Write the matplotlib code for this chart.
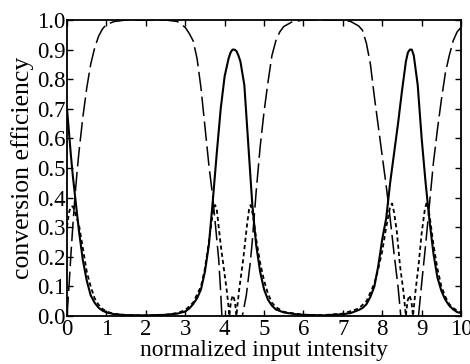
import matplotlib
matplotlib.use("Agg")
import matplotlib.pyplot as plt

plt.rcParams['font.family'] = ['Liberation Serif', 'DejaVu Serif']
plt.rcParams['lines.scale_dashes'] = False

# ---- solid curve ----
x_solid = [0, 0.05, 0.1, 0.15, 0.2, 0.25, 0.3, 0.35, 0.4, 0.5, 0.6, 0.7, 0.8, 0.9, 1.0, 1.2, 1.5, 2.0,
           2.5, 2.8, 3.0, 3.1, 3.2, 3.3, 3.4, 3.5, 3.6, 3.7, 3.8, 3.9, 4.0, 4.1, 4.15, 4.2, 4.25, 4.3,
           4.35, 4.4, 4.5, 4.6, 4.7, 4.8, 4.9, 5.0, 5.1, 5.2, 5.3, 5.5, 5.8, 6.0, 6.5, 7.0, 7.2, 7.4,
           7.5, 7.6, 7.7, 7.8, 7.9, 8.0, 8.1, 8.2, 8.3, 8.4, 8.5, 8.6, 8.65, 8.7, 8.75, 8.8, 8.9, 9.0,
           9.1, 9.2, 9.3, 9.4, 9.5, 9.6, 9.7, 9.8, 9.9, 10.0]
y_solid = [0.70, 0.62, 0.54, 0.47, 0.41, 0.35, 0.29, 0.24, 0.19, 0.12, 0.07, 0.045, 0.028, 0.018, 0.012,
           0.006, 0.003, 0.002, 0.004, 0.008, 0.015, 0.025, 0.04, 0.06, 0.09, 0.15, 0.24, 0.39, 0.55,
           0.70, 0.81, 0.87, 0.89, 0.90, 0.90, 0.895, 0.88, 0.86, 0.78, 0.58, 0.38, 0.24, 0.15, 0.09,
           0.055, 0.035, 0.022, 0.012, 0.006, 0.004, 0.002, 0.006, 0.01, 0.02, 0.027, 0.04, 0.065, 0.10,
           0.17, 0.26, 0.33, 0.45, 0.55, 0.65, 0.76, 0.86, 0.89, 0.90, 0.90, 0.88, 0.78, 0.60, 0.45,
           0.32, 0.21, 0.13, 0.085, 0.055, 0.035, 0.022, 0.013, 0.01]

# ---- long-dashed curve ----
x_long = [0, 0.05, 0.1, 0.15, 0.2, 0.25, 0.3, 0.4, 0.5, 0.6, 0.7, 0.8, 0.9, 1.0, 1.2, 1.5, 2.0, 2.5,
          2.8, 3.0, 3.1, 3.2, 3.3, 3.4, 3.5, 3.6, 3.7, 3.8, 3.85, 3.9, 3.93, 4.2, 4.45, 4.55, 4.65,
          4.7, 4.8, 4.9, 5.0, 5.1, 5.2, 5.3, 5.4, 5.5, 5.7, 6.0, 7.0, 7.2, 7.4, 7.5, 7.6, 7.7, 7.8,
          7.9, 8.0, 8.1, 8.2, 8.3, 8.4, 8.47, 8.7, 8.92, 9.0, 9.1, 9.2, 9.3, 9.4, 9.5, 9.6, 9.7,
          9.8, 9.9, 10.0]
y_long = [0.0, 0.10, 0.21, 0.31, 0.40, 0.48, 0.55, 0.67, 0.77, 0.85, 0.905, 0.945, 0.97, 0.985, 0.995,
          1.0, 1.0, 1.0, 0.995, 0.975, 0.955, 0.93, 0.87, 0.77, 0.64, 0.51, 0.40, 0.26, 0.19, 0.08,
          0.0, 0.0, 0.0, 0.07, 0.18, 0.25, 0.42, 0.57, 0.69, 0.79, 0.88, 0.93, 0.96, 0.978, 0.993,
          1.0, 1.0, 0.995, 0.98, 0.965, 0.92, 0.85, 0.74, 0.64, 0.54, 0.44, 0.33, 0.21, 0.10, 0.0,
          0.0, 0.0, 0.11, 0.24, 0.38, 0.52, 0.63, 0.73, 0.82, 0.88, 0.93, 0.96, 0.975]

# ---- short-dashed curve ----
x_short = [0, 0.05, 0.1, 0.15, 0.2, 0.3, 0.4, 0.5, 0.6, 0.7, 0.8, 0.9, 1.0, 1.2, 1.5, 2.0, 2.5, 2.8,
           3.0, 3.2, 3.4, 3.5, 3.6, 3.7, 3.76, 3.8, 3.85, 3.9, 3.95, 4.0, 4.05, 4.1, 4.12, 4.16, 4.21,
           4.26, 4.3, 4.32, 4.37, 4.42, 4.47, 4.52, 4.57, 4.62, 4.66, 4.72, 4.8, 4.9, 5.0, 5.1, 5.2,
           5.3, 5.5, 6.0, 6.5, 7.0, 7.4, 7.6, 7.8, 7.9, 8.0, 8.1, 8.2, 8.25, 8.3, 8.37, 8.45, 8.54,
           8.6, 8.64, 8.69, 8.74, 8.78, 8.84, 8.92, 9.0, 9.08, 9.13, 9.2, 9.3, 9.4, 9.5, 9.6, 9.7,
           9.8, 9.9, 10.0]
y_short = [0.30, 0.35, 0.37, 0.37, 0.35, 0.31, 0.23, 0.15, 0.10, 0.06, 0.038, 0.024, 0.015, 0.007,
           0.003, 0.002, 0.004, 0.01, 0.02, 0.045, 0.10, 0.16, 0.25, 0.35, 0.375, 0.36, 0.30, 0.24,
           0.19, 0.14, 0.09, 0.03, 0.0, 0.05, 0.07, 0.05, 0.0, 0.03, 0.09, 0.14, 0.19, 0.25, 0.31,
           0.36, 0.375, 0.34, 0.26, 0.18, 0.12, 0.075, 0.045, 0.03, 0.014, 0.004, 0.003, 0.008, 0.025,
           0.05, 0.11, 0.16, 0.22, 0.30, 0.37, 0.38, 0.35, 0.285, 0.17, 0.08, 0.0, 0.05, 0.07, 0.05,
           0.0, 0.08, 0.17, 0.28, 0.36, 0.385, 0.34, 0.24, 0.16, 0.10, 0.065, 0.04, 0.027, 0.018,
           0.012]

x_ticks = [0, 1, 2, 3, 4, 5, 6, 7, 8, 9, 10]
y_ticks = [0.0, 0.1, 0.2, 0.3, 0.4, 0.5, 0.6, 0.7, 0.8, 0.9, 1.0]

fig = plt.figure(figsize=(4.7, 3.64), dpi=100)
ax = fig.add_axes([0.1426, 0.1319, 0.981 - 0.1426, 0.945 - 0.1319])

ax.plot(x_solid, y_solid, color='black', lw=1.5, solid_joinstyle='round')
ax.plot(x_long, y_long, color='black', lw=1.1, dashes=(14, 4))
ax.plot(x_short, y_short, color='black', lw=1.3, dashes=(3, 2.2))

ax.set_xlim(0, 10)
ax.set_ylim(0, 1)
ax.set_xticks(x_ticks)
ax.set_yticks(y_ticks)
ax.set_xticklabels([str(t) for t in x_ticks])
ax.set_yticklabels([f"{t:.1f}" for t in y_ticks])
ax.tick_params(direction='in', top=True, right=True, length=4, width=1.0,
               labelsize=16.5, pad=1)
ax.tick_params(axis='x', pad=2)
for s in ax.spines.values():
    s.set_linewidth(1.3)

ax.set_xlabel('normalized input intensity', fontsize=17, labelpad=0)
ax.set_ylabel('conversion efficiency', fontsize=18.5, labelpad=2)

fig.savefig('out.png', dpi=100)
